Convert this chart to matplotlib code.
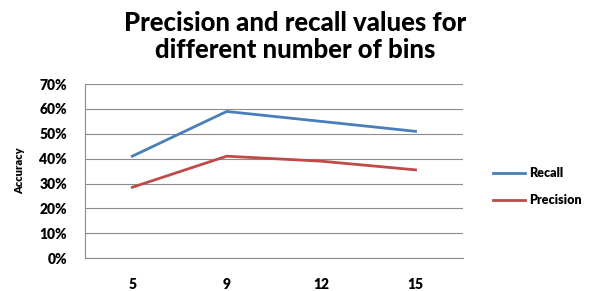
import matplotlib
matplotlib.use("Agg")
import matplotlib.pyplot as plt
from matplotlib.ticker import PercentFormatter

bins = ["5", "9", "12", "15"]
recall = [41, 59, 55, 51]
precision = [28.5, 41, 39, 35.5]

plt.rcParams['font.family'] = ['Lato', 'DejaVu Sans']

fig = plt.figure(figsize=(5.91, 2.91), dpi=100)
ax = fig.add_axes([0.144, 0.113, 0.639, 0.598])

x = range(len(bins))
ax.plot(x, recall, color="#4A7EBB", lw=2, label="Recall")
ax.plot(x, precision, color="#BE4B48", lw=2, label="Precision")

ax.set_xlim(-0.5, len(bins) - 0.5)
ax.set_ylim(0, 70)
ax.set_yticks(range(0, 71, 10))
ax.yaxis.set_major_formatter(PercentFormatter(decimals=0))
ax.set_xticks(list(x))
ax.set_xticklabels(bins)
ax.grid(axis="y", color="#8c8c8c", lw=0.8)
ax.set_axisbelow(True)
for s in ["top", "right"]:
    ax.spines[s].set_visible(False)
for s in ["left", "bottom"]:
    ax.spines[s].set_color("#8c8c8c")
ax.tick_params(length=0, labelsize=10)
ax.tick_params(axis="x", pad=14)
ax.tick_params(axis="y", pad=13)
for lbl in ax.get_xticklabels() + ax.get_yticklabels():
    lbl.set_fontweight("heavy")
ax.set_ylabel("Accuracy", fontsize=8, fontweight="heavy", labelpad=10)

fig.suptitle("Precision and recall values for\ndifferent number of bins",
             fontsize=18.5, fontweight="black", y=0.962, x=0.5, linespacing=1.15)

ax.legend(loc="center left", bbox_to_anchor=(1.05, 0.41), frameon=False,
          prop={"weight": "heavy", "size": 9}, handlelength=2.6,
          labelspacing=1.2, handletextpad=0.3)

fig.savefig("out.png", dpi=100)
